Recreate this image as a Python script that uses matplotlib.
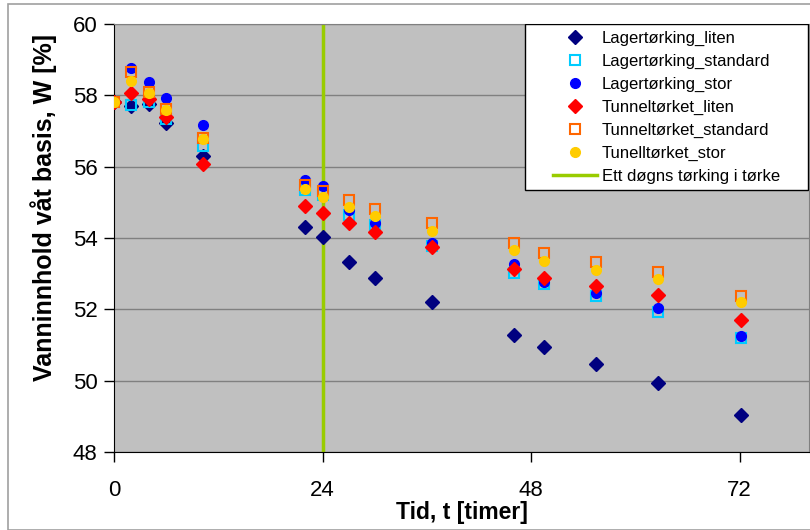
import matplotlib
matplotlib.use("Agg")
import matplotlib.pyplot as plt
from matplotlib.patches import Rectangle

plt.rcParams['font.family'] = ['Liberation Sans', 'DejaVu Sans']

# tid i timer
tid = [0, 2, 4, 6, 10.3, 22, 24, 27, 30, 36.6, 46, 49.5, 55.5, 62.6, 72.2]

lager_liten = [57.8, 57.7, 57.75, 57.22, 56.3, 54.3, 54.04, 53.32, 52.88,
               52.2, 51.28, 50.94, 50.46, 49.94, 49.04]
lager_standard = [57.8, 57.73, 57.8, 57.35, 56.58, 55.35, 55.2, 54.65, 54.36,
                  53.78, 53.01, 52.7, 52.37, 51.93, 51.19]
lager_stor = [57.8, 58.76, 58.37, 57.93, 57.17, 55.63, 55.46, 54.79, 54.41,
              53.85, 53.27, 52.78, 52.47, 52.05, 51.25]
tunnel_liten = [57.8, 58.06, 57.89, 57.4, 56.07, 54.91, 54.69, 54.43, 54.18,
                53.74, 53.13, 52.87, 52.66, 52.4, 51.7]
tunnel_standard = [57.8, 58.66, 58.1, 57.61, 56.8, 55.49, 55.33, 55.07, 54.8,
                   54.41, 53.86, 53.59, 53.32, 53.04, 52.38]
tunnel_stor = [57.8, 58.41, 58.07, 57.59, 56.78, 55.37, 55.14, 54.88, 54.63,
               54.2, 53.66, 53.36, 53.1, 52.84, 52.2]

ett_dogn = 24
x_ticks = [0, 24, 48, 72]
y_ticks = [48, 50, 52, 54, 56, 58, 60]

fig = plt.figure(figsize=(8.1, 5.3), dpi=100)
fig.patches.append(Rectangle((8 / 810, 0), 1, 1 - 4 / 530, transform=fig.transFigure,
                             fill=False, edgecolor='#a0a0a0', linewidth=1.2))
ax = fig.add_axes([114 / 810, 78 / 530, 695 / 810, 428 / 530])
ax.set_facecolor('#c0c0c0')

ax.plot(tid, lager_liten, 'D', color='#000080', markersize=7.5, linestyle='none',
        label='Lagertørking_liten', zorder=3)
ax.plot(tid, lager_standard, 's', markerfacecolor='none', markeredgecolor='#00ccff',
        markeredgewidth=1.5, markersize=7, linestyle='none',
        label='Lagertørking_standard', zorder=3)
ax.plot(tid, lager_stor, 'o', color='#0000ff', markersize=7, linestyle='none',
        label='Lagertørking_stor', zorder=3)
ax.plot(tid, tunnel_liten, 'D', color='#ff0000', markersize=7.5, linestyle='none',
        label='Tunneltørket_liten', zorder=3)
ax.plot(tid, tunnel_standard, 's', markerfacecolor='none', markeredgecolor='#ff6600',
        markeredgewidth=1.5, markersize=7, linestyle='none',
        label='Tunneltørket_standard', zorder=3)
ax.plot(tid, tunnel_stor, 'o', color='#ffcc00', markersize=7, linestyle='none',
        label='Tunelltørket_stor', zorder=3)
ax.axvline(ett_dogn, color='#99cc00', linewidth=2.5, zorder=2,
           label='Ett døgns tørking i tørke')

ax.set_xlim(0, 80)
ax.set_ylim(48, 60)
ax.set_xticks(x_ticks)
ax.set_yticks(y_ticks)
ax.yaxis.grid(True, color='#808080', linewidth=1)
ax.set_axisbelow(True)
ax.tick_params(axis='both', direction='out', length=7, width=1, labelsize=16,
               colors='black', pad=5)
ax.tick_params(axis='x', pad=13)
for side in ['top', 'right']:
    ax.spines[side].set_color('#808080')
for side in ['left', 'bottom']:
    ax.spines[side].set_color('black')

ax.set_xlabel('Tid, t [timer]', fontsize=16.5, fontweight='bold')
ax.set_ylabel('Vanninnhold våt basis, W [%]', fontsize=18, fontweight='bold')
ax.xaxis.set_label_coords(0.5, -0.114)
ax.yaxis.set_label_coords(-0.082, 0.572)

leg = ax.legend(loc='upper right', bbox_to_anchor=(0.958, 0.985), fontsize=12,
                frameon=False, borderpad=0, labelspacing=0.48, handlelength=2.6,
                handletextpad=0.3, borderaxespad=0)

# legend frame with wide side padding, like the original
fig.canvas.draw()
bb = leg.get_window_extent().transformed(fig.transFigure.inverted())
px, py = 28 / 810, 6 / 530
frame = Rectangle((bb.x0 - px, bb.y0 - py), bb.width + 2 * px, bb.height + 2 * py,
                  transform=fig.transFigure, facecolor='white', edgecolor='black',
                  linewidth=1, zorder=4)
ax.add_artist(frame)
leg.set_zorder(5)

fig.savefig('out.png', dpi=100)
